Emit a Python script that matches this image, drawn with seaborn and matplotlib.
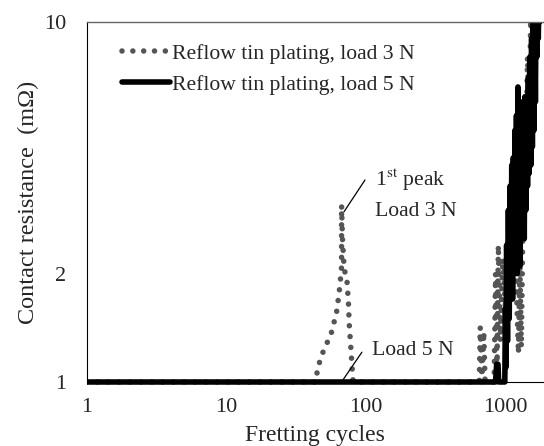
import numpy as np
import pandas as pd
import matplotlib
matplotlib.use('Agg')
import matplotlib.pyplot as plt
from matplotlib.patches import Rectangle
import seaborn as sns

# fretting cycles / contact resistance (mOhm)
cycles_3n = [1, 44, 45, 50, 54, 57, 62, 65, 67, 67, 67, 67, 68, 70, 73, 75, 76, 78, 81,
             650, 660, 680, 700, 715, 830, 850, 870, 890, 920, 960, 1000, 1100, 1200,
             1240, 1270, 1300, 1330, 1370, 1400, 1440, 1480, 1520, 1550, 1580]
res_3n = [1.0, 1.0, 1.09, 1.23, 1.31, 1.38, 1.58, 1.83, 2.09, 2.45, 2.76, 3.1, 2.5, 2.05,
          1.95, 1.67, 1.45, 1.25, 1.0,
          1.0, 1.42, 1.0, 1.38, 1.0, 1.0, 2.0, 1.05, 2.4, 1.3, 2.2, 1.6, 3.0, 1.8,
          1.2, 2.1, 1.25, 2.5, 5.5, 4.0, 8.0, 5.5, 10.5, 7.0, 11.0]

cycles_5n = [1, 850, 865, 885, 895, 990,
             1000, 1010, 1020, 1035, 1050, 1065, 1080, 1095, 1110, 1125, 1140, 1155, 1170,
             1185, 1200, 1215, 1230, 1245, 1260, 1275, 1290, 1305, 1320, 1335, 1350, 1365, 1380,
             1400, 1420, 1440, 1460, 1480, 1500, 1520, 1540, 1560, 1580, 1600, 1620, 1640,
             1660, 1680, 1700, 1720, 1740, 1760, 1780]
res_5n = [1.0, 1.0, 1.12, 1.12, 1.0, 1.0,
          1.6, 1.1, 2.4, 1.3, 3.0, 1.5, 3.5, 1.8, 4.0, 1.7, 4.2, 2.0, 5.0,
          2.2, 5.5, 2.0, 6.6, 2.3, 4.5, 2.1, 5.5, 2.5, 6.0, 2.8, 5.8, 2.5, 6.2,
          3.0, 5.5, 3.5, 7.0, 3.8, 8.0, 4.0, 9.0, 4.5, 10.5, 5.0, 11.0, 6.0,
          12.0, 8.0, 12.0, 9.0, 12.0, 10.0, 12.0]

x_ticks = [1, 10, 100, 1000]
y_ticks = [1, 2, 10]
label_3n = 'Reflow tin plating, load 3 N'
label_5n = 'Reflow tin plating, load 5 N'

df3 = pd.DataFrame({'cycles': cycles_3n, 'res': res_3n})
df5 = pd.DataFrame({'cycles': cycles_5n, 'res': res_5n})

sns.set_style('white')
plt.rcParams['font.family'] = ['Liberation Serif', 'DejaVu Serif']
plt.rcParams['mathtext.fontset'] = 'stix'
fs = 15.6

fig = plt.figure(figsize=(5.44, 4.46), dpi=100)
ax = fig.add_axes([0.1594, 0.1435, 0.8406, 0.8072])

sns.lineplot(data=df3, x='cycles', y='res', ax=ax, estimator=None, sort=False,
             color='#555555', lw=4.0, label=label_3n)
sns.lineplot(data=df5, x='cycles', y='res', ax=ax, estimator=None, sort=False,
             color='black', lw=4.0, label=label_5n)

l3, l5 = ax.get_lines()[:2]
l3.set_linestyle((0, (0.001, 1.95)))
l3.set_dash_capstyle('round')
# let the y=1 baseline show fully over the bottom spine
for ln in (l3, l5):
    ln.set_clip_path(Rectangle((0, -0.03), 1, 1.03, transform=ax.transAxes))

ax.set_xscale('log')
ax.set_yscale('log')
ax.set_xlim(1, 1890)
ax.set_ylim(1, 10)
ax.set_xticks(x_ticks)
ax.set_xticklabels([str(t) for t in x_ticks])
ax.set_yticks(y_ticks)
ax.set_yticklabels([str(t) for t in y_ticks])
ax.minorticks_off()
ax.tick_params(direction='inout', length=8, width=0.8, labelsize=16)
ax.tick_params(axis='x', pad=7.5)
ax.tick_params(axis='y', pad=11)

for s in ['left', 'bottom']:
    ax.spines[s].set_color('black')
    ax.spines[s].set_linewidth(0.8)
ax.spines['top'].set_color('#666666')
ax.spines['top'].set_linewidth(1.0)
ax.spines['right'].set_visible(False)

ax.set_xlabel('Fretting cycles', fontsize=17, labelpad=6)
ax.set_ylabel('Contact resistance  (m\u03a9)', fontsize=17.5, labelpad=3)

leg = ax.legend(loc='upper left', bbox_to_anchor=(0.078, 0.94), frameon=False,
                fontsize=fs, handlelength=2.2, handletextpad=0.1, labelspacing=0.5,
                borderaxespad=0, borderpad=0)
leg.get_lines()[0].set_dash_capstyle('round')

ax.annotate('', xy=(69.7, 2.97), xytext=(98.6, 3.64),
            arrowprops=dict(arrowstyle='-', lw=0.9, color='black', shrinkA=0, shrinkB=0))
ax.text(116, 3.64, '1$^{\\mathrm{st}}$ peak', fontsize=fs, va='center', ha='left')
ax.text(116, 2.97, 'Load 3 N', fontsize=fs, va='center', ha='left')
ax.annotate('', xy=(68.5, 1.013), xytext=(93.7, 1.21),
            arrowprops=dict(arrowstyle='-', lw=0.9, color='black', shrinkA=0, shrinkB=0))
ax.text(110, 1.227, 'Load 5 N', fontsize=fs, va='center', ha='left')

fig.savefig('out.png', dpi=100)
